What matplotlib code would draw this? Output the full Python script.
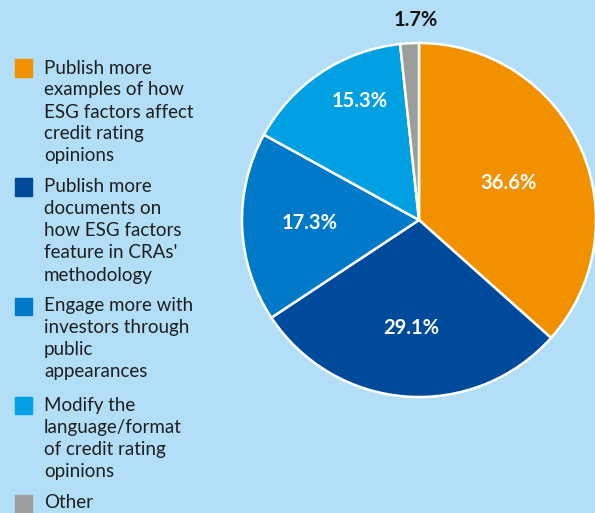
import matplotlib
matplotlib.use("Agg")
import matplotlib.pyplot as plt
import numpy as np

categories = [
    ["Publish more", "examples of how", "ESG factors affect", "credit rating", "opinions"],
    ["Publish more", "documents on", "how ESG factors", "feature in CRAs'", "methodology"],
    ["Engage more with", "investors through", "public", "appearances"],
    ["Modify the", "language/format", "of credit rating", "opinions"],
    ["Other"],
]
values = [36.6, 29.1, 17.3, 15.3, 1.7]
value_labels = ["36.6%", "29.1%", "17.3%", "15.3%", "1.7%"]
colors = ["#F29100", "#004A9C", "#0079C8", "#00A0E2", "#9D9D9C"]
bg = "#B2DFF7"

W, H = 595, 513
fig = plt.figure(figsize=(W / 100, H / 100), dpi=100, facecolor=bg)

# pie axes
cx, cy, r = 419, 220, 177
ax = fig.add_axes([(cx - r) / W, (H - cy - r) / H, 2 * r / W, 2 * r / H])
ax.set_facecolor(bg)
wedges, _ = ax.pie(values, colors=colors, startangle=90, counterclock=False,
                   wedgeprops=dict(edgecolor="white", linewidth=1.8), radius=1.0)
ax.set_xlim(-1, 1)
ax.set_ylim(-1, 1)
ax.set_aspect("equal")
ax.axis("off")

# label placement: radius and angular offset from wedge middle (layout only)
label_r = [0.55, 0.61, 0.62, 0.75, 1.13]
label_dang = [-1.5, 0, -0.7, -7.0, -2.0]
theta = 90.0
for i, (v, lab) in enumerate(zip(values, value_labels)):
    mid = theta - v / 2 * 3.6 + label_dang[i]
    theta -= v * 3.6
    x = label_r[i] * np.cos(np.radians(mid))
    y = label_r[i] * np.sin(np.radians(mid))
    col = "#111111" if i == 4 else "white"
    ax.text(x, y, lab, ha="center", va="center", color=col, fontsize=14.5,
            fontweight="bold", family="Lato", clip_on=False)

# legend
starts = [68, 187, 306, 405, 503]
line_h = 22
for i, lines in enumerate(categories):
    y0 = starts[i]
    fig.patches.append(plt.Rectangle((15 / W, 1 - (y0 + 8.5) / H), 17 / W, 17 / H,
                                     transform=fig.transFigure, color=colors[i]))
    for k, ln in enumerate(lines):
        fig.text(44 / W, 1 - (y0 + k * line_h) / H, ln, ha="left", va="center",
                 fontsize=13.5, family="Lato", color="#1e1e1e")

fig.savefig("out.png", dpi=100, facecolor=bg)
